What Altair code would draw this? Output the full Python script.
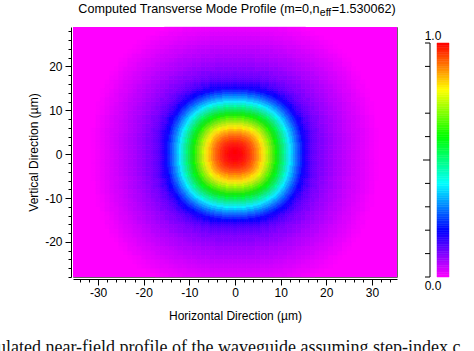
import altair as alt
import numpy as np
import pandas as pd

# ---------------- text ----------------
title_main = "Computed Transverse Mode Profile (m=0,n"
title_sub = "eff"
title_end = "=1.530062)"
x_title = "Horizontal Direction (µm)"
y_title = "Vertical Direction (µm)"
caption = "ulated near-field profile of the waveguide assuming step-index c"

# ---------------- axes ----------------
x_domain = [-35.5, 35.5]
y_domain = [-28.0, 29.0]
x_tick_values = list(range(-34, 35, 2))
y_tick_values = list(range(-28, 29, 2))

# ---------------- mode profile ----------------
# normalised field amplitude vs. distance from the mode centre, 0.5 um steps
profile_step_um = 0.5
mode_amplitude = [
    1.000, 0.998, 0.994, 0.987, 0.978, 0.966, 0.952, 0.935, 0.915, 0.893,
    0.869, 0.843, 0.815, 0.785, 0.753, 0.719, 0.684, 0.648, 0.612, 0.576,
    0.540, 0.504, 0.468, 0.433, 0.398, 0.364, 0.331, 0.299, 0.268, 0.239,
    0.212, 0.188, 0.167, 0.150, 0.136, 0.125, 0.116, 0.108, 0.101, 0.095,
    0.089, 0.084, 0.079, 0.074, 0.069, 0.065, 0.061, 0.057, 0.053, 0.049,
    0.045, 0.041, 0.037, 0.034, 0.030, 0.027, 0.023, 0.020, 0.016, 0.013,
    0.009, 0.006, 0.003, 0.000,
]
contour_shape_exponent = 2.4  # slightly squared contours of the square guide

# ---------------- colour bar ----------------
colorbar_stops = [0.0, 0.2, 0.4, 0.6, 0.8, 1.0]
colorbar_colors = ["#ff00ff", "#0000ff", "#00ffff", "#00ff00", "#ffff00", "#ff0000"]
colorbar_ticks = [0.0, 0.1, 0.2, 0.3, 0.4, 0.6, 0.7, 0.9, 1.0]
colorbar_long_tick = [0.5]
colorbar_labels = ["0.0", "1.0"]


def amplitude_at(xc, yc):
    p = contour_shape_exponent
    r = (abs(xc) ** p + abs(yc) ** p) ** (1.0 / p)
    idx = int(round(r / profile_step_um))
    return (mode_amplitude[idx] if idx < len(mode_amplitude) else 0.0), r


rows = []
for i in range(int(x_domain[1] - x_domain[0])):
    x0 = x_domain[0] + i
    for j in range(int(y_domain[1] - y_domain[0])):
        y0 = y_domain[0] + j
        v, r = amplitude_at(x0 + 0.5, y0 + 0.5)
        if r < 15.5:
            n = 4
        elif r < 19.0:
            n = 2
        else:
            n = 1
        if n == 1:
            if v > 0:
                rows.append((x0, x0 + 1.0, y0, y0 + 1.0, v))
            continue
        s = 1.0 / n
        for a in range(n):
            for b in range(n):
                xa, yb = x0 + a * s, y0 + b * s
                vv, _ = amplitude_at(xa + s / 2, yb + s / 2)
                rows.append((xa, xa + s, yb, yb + s, vv))
field = pd.DataFrame(rows, columns=["x", "x2", "y", "y2", "v"]).round(4)

FONT = "Liberation Sans"
cscale = alt.Scale(domain=colorbar_stops, range=colorbar_colors, interpolate="rgb")
xscale = alt.Scale(domain=x_domain, nice=False, zero=False)
yscale = alt.Scale(domain=y_domain, nice=False, zero=False)

major_test = "datum.value % 10 === 0"
xaxis = alt.Axis(
    values=x_tick_values, labelExpr=f"{major_test} ? '' + datum.value : ''",
    tickSize={"condition": {"test": major_test, "value": 6}, "value": 3},
    offset=2, grid=False, domainColor="#000", tickColor="#000", labelColor="#000",
    labelFont=FONT, labelFontSize=12, labelPadding=2, labelFlush=False,
    title=x_title, titleFont=FONT, titleFontSize=12, titleFontWeight="normal",
    titleColor="#000", titleBaseline="middle", titleY=36,
)
yaxis = alt.Axis(
    values=y_tick_values, labelExpr=f"{major_test} ? '' + datum.value : ''",
    tickSize={"condition": {"test": major_test, "value": 6}, "value": 3},
    offset=2, grid=False, domainColor="#000", tickColor="#000", labelColor="#000",
    labelFont=FONT, labelFontSize=12, labelPadding=3, labelFlush=False,
    title=y_title, titleFont=FONT, titleFontSize=12, titleFontWeight="normal",
    titleColor="#000", titleBaseline="middle", titleX=-38, titleY=125,
    titleAngle=270, titleAlign="center",
)

bg = alt.Chart(pd.DataFrame({"x": [x_domain[0]], "x2": [x_domain[1]],
                             "y": [y_domain[0]], "y2": [y_domain[1]], "v": [0.0]})
               ).mark_rect().encode(
    x=alt.X("x:Q", scale=xscale, axis=xaxis), x2="x2:Q",
    y=alt.Y("y:Q", scale=yscale, axis=yaxis), y2="y2:Q",
    color=alt.Color("v:Q", scale=cscale, legend=None),
)
cells = alt.Chart(field).mark_rect(strokeWidth=0.35).encode(
    x=alt.X("x:Q", scale=xscale, axis=xaxis), x2="x2:Q",
    y=alt.Y("y:Q", scale=yscale, axis=yaxis), y2="y2:Q",
    color=alt.Color("v:Q", scale=cscale, legend=None),
    stroke=alt.Stroke("v:Q", scale=cscale, legend=None),
)
heat = alt.layer(bg, cells)

# colour bar
cb_scale = alt.Scale(domain=[0, 1], range=[250, 16], nice=False, zero=False)
lv = np.round(np.arange(0, 1.0, 0.01), 2)
cb_df = pd.DataFrame({"v": lv, "v2": lv + 0.01, "vc": lv + 0.005})
cb_bar = alt.Chart(cb_df).mark_rect(strokeWidth=0.5).encode(
    x=alt.value(364), x2=alt.value(376),
    y=alt.Y("v:Q", scale=cb_scale, axis=None), y2="v2:Q",
    color=alt.Color("vc:Q", scale=cscale, legend=None),
    stroke=alt.Stroke("vc:Q", scale=cscale, legend=None),
)
cb_line = alt.Chart(pd.DataFrame({"a": [0.0], "b": [1.0]})).mark_rule(color="#000", strokeWidth=1).encode(
    x=alt.value(357), y=alt.Y("a:Q", scale=cb_scale, axis=None), y2="b:Q",
)
cb_ticks = alt.Chart(pd.DataFrame({"t": colorbar_ticks})).mark_rule(color="#000", strokeWidth=1).encode(
    x=alt.value(352), x2=alt.value(357), y=alt.Y("t:Q", scale=cb_scale, axis=None),
)
cb_long = alt.Chart(pd.DataFrame({"t": colorbar_long_tick})).mark_rule(color="#000", strokeWidth=1).encode(
    x=alt.value(350), x2=alt.value(357), y=alt.Y("t:Q", scale=cb_scale, axis=None),
)
cb_lab_top = alt.Chart(pd.DataFrame({"t": [1.0], "s": [colorbar_labels[1]]})).mark_text(
    font=FONT, fontSize=12, color="#000", align="center", baseline="alphabetic", dy=-3,
).encode(x=alt.value(360), y=alt.Y("t:Q", scale=cb_scale, axis=None), text="s:N")
cb_lab_bot = alt.Chart(pd.DataFrame({"t": [0.0], "s": [colorbar_labels[0]]})).mark_text(
    font=FONT, fontSize=12, color="#000", align="center", baseline="alphabetic", dy=13,
).encode(x=alt.value(360), y=alt.Y("t:Q", scale=cb_scale, axis=None), text="s:N")
cbar = alt.layer(cb_bar, cb_line, cb_ticks, cb_long, cb_lab_top, cb_lab_bot)

# title and caption
one = pd.DataFrame({"k": [0]})
t1 = alt.Chart(one).mark_text(font=FONT, fontSize=12.6, color="#000", align="right",
                              baseline="alphabetic").encode(
    x=alt.value(246.5), y=alt.value(-13.7), text=alt.value(title_main))
t2 = alt.Chart(one).mark_text(font=FONT, fontSize=10.5, color="#000", align="left",
                              baseline="alphabetic").encode(
    x=alt.value(246.8), y=alt.value(-10.8), text=alt.value(title_sub))
t3 = alt.Chart(one).mark_text(font=FONT, fontSize=12.6, color="#000", align="left",
                              baseline="alphabetic").encode(
    x=alt.value(258.7), y=alt.value(-13.7), text=alt.value(title_end))
cap = alt.Chart(one).mark_text(font="Liberation Serif", fontSize=18, color="#111", align="left",
                               baseline="alphabetic").encode(
    x=alt.value(-76), y=alt.value(326), text=alt.value(caption))

chart = alt.layer(heat, cbar, t1, t2, t3, cap).resolve_scale(y="independent").properties(
    width=324, height=250,
    padding={"left": 73, "top": 27, "right": 77, "bottom": 74},
    autosize=alt.AutoSizeParams(type="none"),
    background="white",
).configure_view(stroke="#666", strokeWidth=1)

chart.save("out.html", embed_options={"renderer": "svg", "actions": False})
